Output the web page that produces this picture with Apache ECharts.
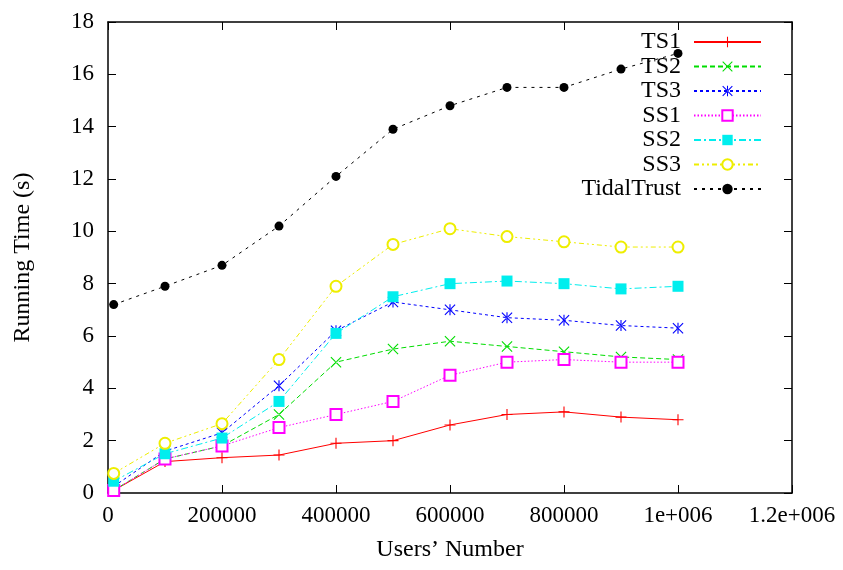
<!DOCTYPE html>
<html>
<head>
<meta charset="utf-8">
<script src="https://cdn.jsdelivr.net/npm/echarts@6/dist/echarts.min.js"></script>
<style>html,body{margin:0;padding:0;background:#fff}#c{width:843px;height:570px}</style>
</head>
<body>
<div id="c"></div>
<script>
var users = [10000, 100000, 200000, 300000, 400000, 500000, 600000, 700000, 800000, 900000, 1000000];
var TS1 = [0.1, 1.2, 1.35, 1.45, 1.9, 2.0, 2.6, 3.0, 3.1, 2.9, 2.8];
var TS2 = [0.1, 1.3, 1.8, 3.0, 5.0, 5.5, 5.8, 5.6, 5.4, 5.2, 5.1];
var TS3 = [0.25, 1.6, 2.3, 4.1, 6.2, 7.3, 7.0, 6.7, 6.6, 6.4, 6.3];
var SS1 = [0.1, 1.3, 1.8, 2.5, 3.0, 3.5, 4.5, 5.0, 5.1, 5.0, 5.0];
var SS2 = [0.45, 1.5, 2.1, 3.5, 6.1, 7.5, 8.0, 8.1, 8.0, 7.8, 7.9];
var SS3 = [0.75, 1.9, 2.65, 5.1, 7.9, 9.5, 10.1, 9.8, 9.6, 9.4, 9.4];
var TidalTrust = [7.2, 7.9, 8.7, 10.2, 12.1, 13.9, 14.8, 15.5, 15.5, 16.2, 16.8];
var seriesNames = ['TS1', 'TS2', 'TS3', 'SS1', 'SS2', 'SS3', 'TidalTrust'];
var xTickLabels = ['0', '200000', '400000', '600000', '800000', '1e+006', '1.2e+006'];
var yTickLabels = ['0', '2', '4', '6', '8', '10', '12', '14', '16', '18'];

var FONT = '"Liberation Serif", "DejaVu Serif", serif';
var plusPath = 'path://M0,4.5H10V5.5H0Z M4.5,0H5.5V10H4.5Z';
var crossPath = 'path://M0,0.7L0.7,0L10,9.3L9.3,10Z M10,0.7L9.3,0L0,9.3L0.7,10Z';
var starPath = 'path://M0,0.7L0.7,0L10,9.3L9.3,10Z M10,0.7L9.3,0L0,9.3L0.7,10Z M4.5,0H5.5V10H4.5Z';

function pairs(vals) { return users.map(function (u, i) { return [u, vals[i]]; }); }

var styles = [
  { data: TS1, color: '#ff0000', type: 'solid', symbol: plusPath, size: 11 },
  { data: TS2, color: '#00dd00', type: [5, 3], symbol: crossPath, size: 11 },
  { data: TS3, color: '#0000ff', type: [3, 3], symbol: starPath, size: 11 },
  { data: SS1, color: '#ff00ff', type: [1.5, 2], symbol: 'emptyRect', size: 11 },
  { data: SS2, color: '#00eeee', type: [7, 3, 2, 3], symbol: 'rect', size: 11 },
  { data: SS3, color: '#eeee00', type: [5, 3, 2, 3, 2, 3], symbol: 'emptyCircle', size: 11 },
  { data: TidalTrust, color: '#000000', type: [3, 5], symbol: 'circle', size: 9 }
];

var series = styles.map(function (s, i) {
  return {
    name: seriesNames[i],
    type: 'line',
    data: pairs(s.data),
    symbol: s.symbol,
    symbolSize: s.size,
    showAllSymbol: true,
    lineStyle: { color: s.color, width: 1, type: s.type },
    itemStyle: { color: s.color, borderColor: s.color, borderWidth: (s.symbol.indexOf('empty') === 0 ? 1.2 : 0) },
    emphasis: { disabled: true },
    animation: false,
    z: 2
  };
});

var chart = echarts.init(document.getElementById('c'), null, { renderer: 'canvas' });
var axisLineStyle = { color: '#000', width: 1.5 };
chart.setOption({
  backgroundColor: '#fff',
  animation: false,
  grid: { left: 108, right: 51, top: 22, bottom: 77, containLabel: false },
  legend: {
    orient: 'vertical',
    right: 76,
    top: 25,
    align: 'right',
    itemWidth: 67,
    itemHeight: 13,
    itemGap: 0.5,
    textStyle: { fontFamily: FONT, fontSize: 24, color: '#000', padding: [0, 8, 0, 0] },
    data: seriesNames
  },
  xAxis: [{
    type: 'value', min: 0, max: 1200000, interval: 200000,
    name: 'Users’ Number', nameLocation: 'middle', nameGap: 45,
    nameTextStyle: { fontFamily: FONT, fontSize: 24, color: '#000' },
    axisLine: { show: true, onZero: false, lineStyle: axisLineStyle },
    axisTick: { show: true, inside: true, length: 8, lineStyle: { color: '#000' } },
    axisLabel: { fontFamily: FONT, fontSize: 23, color: '#000', margin: 11,
      formatter: function (v) { return xTickLabels[Math.round(v / 200000)]; } },
    splitLine: { show: false }
  }, {
    type: 'value', min: 0, max: 1200000, interval: 200000, position: 'top',
    axisLine: { show: true, onZero: false, lineStyle: axisLineStyle },
    axisTick: { show: true, inside: true, length: 8, lineStyle: { color: '#000' } },
    axisLabel: { show: false }, splitLine: { show: false }
  }],
  yAxis: [{
    type: 'value', min: 0, max: 18, interval: 2,
    name: 'Running Time (s)', nameLocation: 'middle', nameGap: 73, nameRotate: 90,
    nameTextStyle: { fontFamily: FONT, fontSize: 24, color: '#000' },
    axisLine: { show: true, onZero: false, lineStyle: axisLineStyle },
    axisTick: { show: true, inside: true, length: 8, lineStyle: { color: '#000' } },
    axisLabel: { fontFamily: FONT, fontSize: 23, color: '#000', margin: 14,
      formatter: function (v) { return yTickLabels[Math.round(v / 2)]; } },
    splitLine: { show: false }
  }, {
    type: 'value', min: 0, max: 18, interval: 2, position: 'right',
    axisLine: { show: true, onZero: false, lineStyle: axisLineStyle },
    axisTick: { show: true, inside: true, length: 8, lineStyle: { color: '#000' } },
    axisLabel: { show: false }, splitLine: { show: false }
  }],
  series: series
});
</script>
</body>
</html>
